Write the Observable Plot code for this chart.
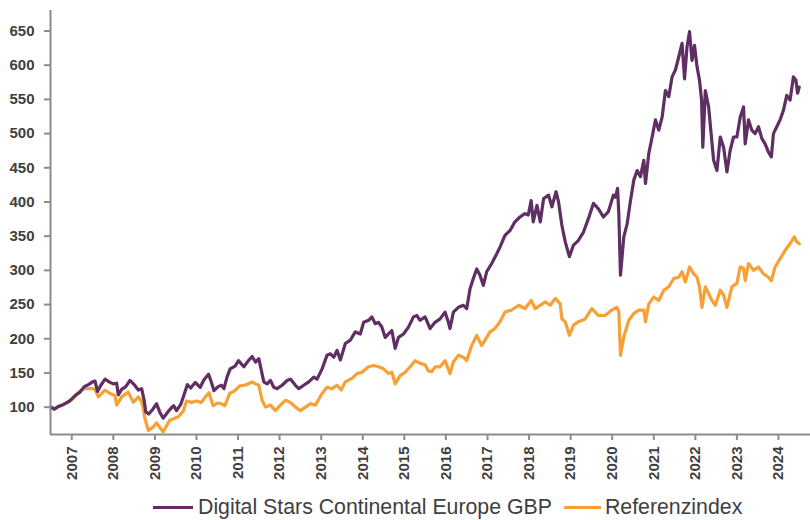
<!DOCTYPE html>
<html>
<head>
<meta charset="utf-8">
<script src="https://cdn.jsdelivr.net/npm/d3@7"></script>
<script src="https://cdn.jsdelivr.net/npm/@observablehq/plot@0.6"></script>
<style>
  html, body { margin: 0; padding: 0; background: #fff; }
  #wrap { position: relative; width: 810px; height: 520px; overflow: hidden; background: #fff; }
  #legend { position: absolute; left: 0; top: 494px; width: 810px; height: 26px; display: flex; align-items: center;
            font-family: "Liberation Sans", Arial, sans-serif; font-size: 21.3px; line-height: 26px; color: #404040; white-space: nowrap; }
  .sw { display: inline-block; height: 3px; }
</style>
</head>
<body>
<div id="wrap">
  <div id="chart"></div>
  <div id="legend"></div>
</div>
<script>
// ---- data (decimal years, index values) ----
const seriesNames = ["Digital Stars Continental Europe GBP", "Referenzindex"];
const seriesColors = ["#5f2e62", "#f7a035"];

const fundT = [2006.50,2006.58,2006.68,2006.80,2006.92,2007.00,2007.10,2007.20,2007.30,2007.40,2007.50,2007.56,2007.62,2007.70,2007.80,2007.90,2008.00,2008.08,2008.12,2008.20,2008.30,2008.40,2008.50,2008.60,2008.68,2008.74,2008.78,2008.85,2008.95,2009.04,2009.12,2009.20,2009.30,2009.38,2009.45,2009.52,2009.62,2009.70,2009.78,2009.86,2009.97,2010.09,2010.18,2010.29,2010.35,2010.42,2010.52,2010.60,2010.66,2010.74,2010.81,2010.93,2011.01,2011.14,2011.25,2011.34,2011.42,2011.50,2011.56,2011.62,2011.70,2011.78,2011.86,2011.94,2012.06,2012.18,2012.26,2012.38,2012.46,2012.58,2012.70,2012.82,2012.90,2013.02,2013.14,2013.22,2013.30,2013.38,2013.46,2013.58,2013.70,2013.82,2013.94,2014.02,2014.14,2014.22,2014.30,2014.38,2014.46,2014.54,2014.62,2014.70,2014.78,2014.86,2014.98,2015.10,2015.22,2015.30,2015.38,2015.50,2015.62,2015.74,2015.86,2015.98,2016.06,2016.10,2016.18,2016.30,2016.42,2016.50,2016.58,2016.66,2016.74,2016.82,2016.90,2016.98,2017.10,2017.22,2017.30,2017.42,2017.55,2017.66,2017.78,2017.90,2017.98,2018.05,2018.10,2018.19,2018.27,2018.35,2018.47,2018.55,2018.65,2018.71,2018.79,2018.87,2018.97,2019.07,2019.19,2019.31,2019.43,2019.55,2019.67,2019.79,2019.91,2020.03,2020.08,2020.13,2020.16,2020.20,2020.28,2020.36,2020.44,2020.52,2020.60,2020.68,2020.76,2020.80,2020.88,2020.96,2021.04,2021.12,2021.20,2021.28,2021.36,2021.44,2021.52,2021.60,2021.68,2021.74,2021.80,2021.86,2021.92,2021.98,2022.04,2022.10,2022.15,2022.18,2022.24,2022.32,2022.38,2022.44,2022.52,2022.60,2022.68,2022.76,2022.84,2022.92,2023.00,2023.08,2023.16,2023.20,2023.28,2023.36,2023.44,2023.52,2023.60,2023.68,2023.76,2023.83,2023.88,2023.96,2024.04,2024.12,2024.20,2024.28,2024.36,2024.42,2024.46,2024.50];
const fundV = [100,97,101,104,108,112,118,122,130,133,137,138,123,132,141,137,134,135,118,126,130,139,133,125,127,110,93,90,97,105,92,84,92,98,102,95,104,118,133,128,136,129,140,148,138,124,130,132,127,145,156,160,168,159,168,174,166,171,154,137,134,139,129,127,132,139,141,132,127,132,137,144,141,156,176,178,173,183,169,193,198,210,207,224,227,232,222,224,217,202,207,212,186,202,207,217,232,234,227,232,215,224,229,239,224,215,239,246,249,244,273,288,302,293,278,298,310,324,334,351,359,371,378,383,381,402,371,395,371,405,410,393,415,400,366,342,320,337,344,356,376,398,390,378,386,410,407,420,383,293,349,368,402,432,446,437,461,427,471,495,520,505,524,563,554,583,593,612,632,580,627,649,607,629,598,578,549,480,563,539,500,461,446,495,480,444,476,495,495,524,539,485,520,505,500,510,493,485,473,466,500,510,520,534,556,549,583,578,559,568];

const refT = [2006.50,2006.58,2006.68,2006.80,2006.92,2007.00,2007.10,2007.20,2007.30,2007.40,2007.50,2007.56,2007.64,2007.72,2007.80,2007.92,2008.04,2008.08,2008.20,2008.36,2008.48,2008.60,2008.68,2008.72,2008.76,2008.84,2008.96,2009.04,2009.12,2009.20,2009.30,2009.36,2009.45,2009.56,2009.68,2009.76,2009.88,2010.00,2010.12,2010.20,2010.30,2010.40,2010.50,2010.60,2010.68,2010.80,2010.92,2011.04,2011.15,2011.25,2011.34,2011.42,2011.50,2011.58,2011.66,2011.78,2011.90,2012.02,2012.14,2012.26,2012.38,2012.50,2012.62,2012.74,2012.86,2013.02,2013.14,2013.26,2013.38,2013.48,2013.58,2013.74,2013.86,2013.98,2014.14,2014.26,2014.38,2014.50,2014.62,2014.70,2014.78,2014.90,2015.02,2015.14,2015.26,2015.38,2015.50,2015.58,2015.66,2015.74,2015.86,2015.98,2016.10,2016.18,2016.30,2016.42,2016.50,2016.62,2016.74,2016.86,2016.94,2017.06,2017.18,2017.30,2017.42,2017.58,2017.75,2017.90,2018.05,2018.15,2018.27,2018.39,2018.51,2018.63,2018.75,2018.79,2018.87,2018.97,2019.07,2019.19,2019.35,2019.51,2019.67,2019.83,2019.99,2020.11,2020.16,2020.20,2020.28,2020.40,2020.52,2020.64,2020.76,2020.80,2020.88,2021.00,2021.12,2021.24,2021.36,2021.48,2021.60,2021.68,2021.76,2021.86,2021.96,2022.04,2022.10,2022.16,2022.24,2022.32,2022.40,2022.48,2022.60,2022.68,2022.76,2022.88,2023.00,2023.08,2023.16,2023.20,2023.28,2023.40,2023.52,2023.64,2023.76,2023.83,2023.92,2024.04,2024.16,2024.28,2024.38,2024.44,2024.50];
const refV = [100,97,101,104,107,111,117,124,127,127,127,126,115,120,125,120,117,103,115,122,107,115,108,98,83,66,71,77,70,64,75,81,83,86,94,109,107,109,107,114,121,102,106,105,102,120,124,131,132,134,137,134,132,110,100,103,95,103,110,107,100,95,100,105,103,120,129,127,132,125,137,142,149,151,159,161,159,156,149,151,134,146,151,159,168,164,162,153,152,159,159,168,149,166,176,173,168,190,205,190,198,210,215,225,239,242,249,244,256,244,249,254,249,259,251,229,225,205,220,225,229,244,234,234,242,246,240,176,203,227,237,242,242,225,251,261,256,271,276,288,290,298,283,305,295,290,276,246,276,266,256,249,271,264,246,276,281,305,303,285,310,300,305,295,290,285,305,317,329,339,349,342,339];

const yTicks = [100,150,200,250,300,350,400,450,500,550,600,650];
const yearTicks = [2007,2008,2009,2010,2011,2012,2013,2014,2015,2016,2017,2018,2019,2020,2021,2022,2023,2024];

// ---- helpers ----
function dy(t) {
  const y = Math.floor(t);
  const a = Date.UTC(y, 0, 1), b = Date.UTC(y + 1, 0, 1);
  return new Date(a + (t - y) * (b - a));
}
const fund = fundT.map((t, i) => ({date: dy(t), value: fundV[i]}));
const ref = refT.map((t, i) => ({date: dy(t), value: refV[i]}));
const xStart = dy(2006.488), xEnd = dy(2024.77);
const axisColor = "#8c8c8c";
const textColor = "#404040";
const font = "'Liberation Sans', Arial, sans-serif";

const chart = Plot.plot({
  width: 810,
  height: 488,
  marginLeft: 50,
  marginRight: 0,
  marginTop: 10,
  marginBottom: 54,
  style: {fontFamily: font, background: "#fff", color: textColor},
  x: {type: "utc", domain: [xStart, xEnd]},
  y: {domain: [60, 680]},
  marks: [
    Plot.line(ref, {x: "date", y: "value", stroke: seriesColors[1], strokeWidth: 3.2, strokeLinejoin: "round"}),
    Plot.line(fund, {x: "date", y: "value", stroke: seriesColors[0], strokeWidth: 3.2, strokeLinejoin: "round"}),
    Plot.ruleX([xStart], {stroke: axisColor, strokeWidth: 2}),
    Plot.ruleY([60], {stroke: axisColor, strokeWidth: 2}),
    Plot.axisY({ticks: yTicks, tickSize: 6, tickPadding: 10, fontSize: 15, fontWeight: "bold",
                fill: textColor, stroke: axisColor, strokeWidth: 2, label: null}),
    Plot.axisX({ticks: yearTicks.map(y => new Date(Date.UTC(y, 0, 1))),
                tickFormat: d => String(d.getUTCFullYear()), tickRotate: -90,
                tickSize: 6, tickPadding: 6, fontSize: 15, fontWeight: "bold",
                fill: textColor, stroke: axisColor, strokeWidth: 2, label: null})
  ]
});
document.getElementById("chart").appendChild(chart);

// ---- legend ----
const legend = document.getElementById("legend");
legend.style.paddingLeft = "153px";
const widths = [40, 37];
const gaps = [0, 12];
seriesNames.forEach((name, i) => {
  const sw = document.createElement("span");
  sw.className = "sw";
  sw.style.width = widths[i] + "px";
  sw.style.background = seriesColors[i];
  sw.style.marginLeft = gaps[i] + "px";
  sw.style.marginRight = (i === 0 ? 5 : 4) + "px";
  const tx = document.createElement("span");
  tx.textContent = name;
  legend.appendChild(sw);
  legend.appendChild(tx);
});
</script>
</body>
</html>
